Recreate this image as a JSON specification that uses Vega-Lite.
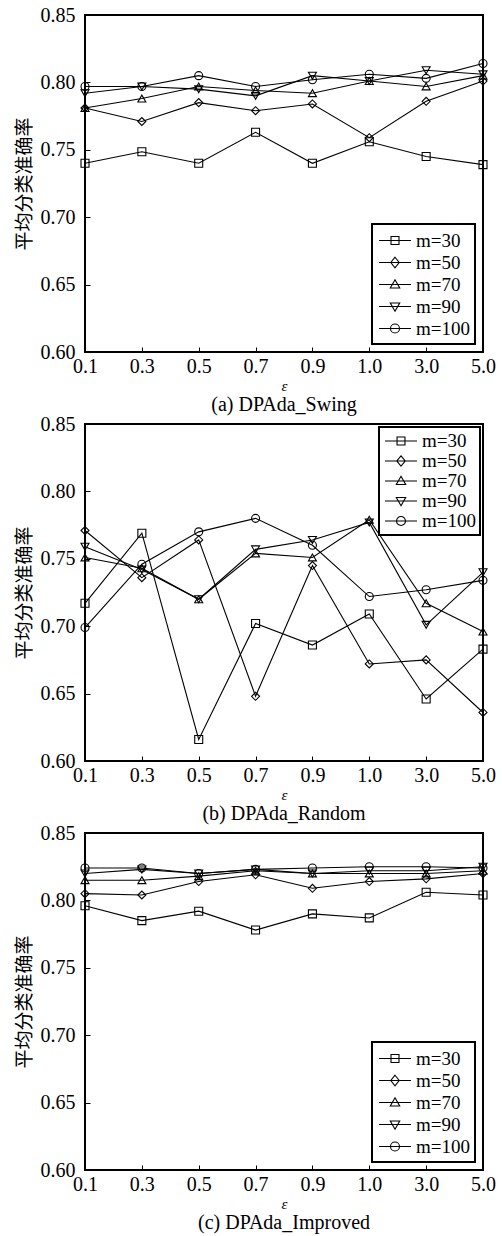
{
  "$schema": "https://vega.github.io/schema/vega-lite/v6.json",
  "padding": {"left": 14, "top": 4, "right": 4, "bottom": 4},
  "background": "white",
  "config": {
    "view": {"stroke": "black", "strokeWidth": 2},
    "axis": {
      "labelFont": "Liberation Serif", "labelFontSize": 20, "labelColor": "black",
      "tickColor": "black", "tickSize": -5, "tickWidth": 1, "domain": false, "grid": false,
      "titleColor": "black"
    },
    "title": {"font": "Liberation Serif", "fontSize": 20, "fontWeight": "normal", "color": "black", "orient": "bottom", "anchor": "middle"},
    "legend": {
      "title": null, "labelFont": "Liberation Serif", "labelFontSize": 19, "labelFontWeight": "normal", "labelColor": "black",
      "strokeColor": "black", "strokeWidth": 2, "fillColor": "white", "padding": 5,
      "symbolSize": 441, "symbolStrokeColor": "black", "symbolStrokeWidth": 1.1, "symbolFillColor": "transparent",
      "rowPadding": 0, "symbolOffset": 6.5, "labelOffset": 9.5
    }
  },
  "datasets": {
    "swing": [
      {"e":"0.1","m":"m=30","v":0.740},{"e":"0.3","m":"m=30","v":0.7485},{"e":"0.5","m":"m=30","v":0.740},{"e":"0.7","m":"m=30","v":0.763},{"e":"0.9","m":"m=30","v":0.740},{"e":"1.0","m":"m=30","v":0.756},{"e":"3.0","m":"m=30","v":0.745},{"e":"5.0","m":"m=30","v":0.739},
      {"e":"0.1","m":"m=50","v":0.781},{"e":"0.3","m":"m=50","v":0.771},{"e":"0.5","m":"m=50","v":0.785},{"e":"0.7","m":"m=50","v":0.779},{"e":"0.9","m":"m=50","v":0.784},{"e":"1.0","m":"m=50","v":0.759},{"e":"3.0","m":"m=50","v":0.786},{"e":"5.0","m":"m=50","v":0.801},
      {"e":"0.1","m":"m=70","v":0.781},{"e":"0.3","m":"m=70","v":0.788},{"e":"0.5","m":"m=70","v":0.797},{"e":"0.7","m":"m=70","v":0.794},{"e":"0.9","m":"m=70","v":0.792},{"e":"1.0","m":"m=70","v":0.801},{"e":"3.0","m":"m=70","v":0.797},{"e":"5.0","m":"m=70","v":0.805},
      {"e":"0.1","m":"m=90","v":0.792},{"e":"0.3","m":"m=90","v":0.797},{"e":"0.5","m":"m=90","v":0.795},{"e":"0.7","m":"m=90","v":0.790},{"e":"0.9","m":"m=90","v":0.805},{"e":"1.0","m":"m=90","v":0.801},{"e":"3.0","m":"m=90","v":0.809},{"e":"5.0","m":"m=90","v":0.806},
      {"e":"0.1","m":"m=100","v":0.797},{"e":"0.3","m":"m=100","v":0.797},{"e":"0.5","m":"m=100","v":0.805},{"e":"0.7","m":"m=100","v":0.797},{"e":"0.9","m":"m=100","v":0.802},{"e":"1.0","m":"m=100","v":0.806},{"e":"3.0","m":"m=100","v":0.803},{"e":"5.0","m":"m=100","v":0.814}
    ],
    "random": [
      {"e":"0.1","m":"m=30","v":0.717},{"e":"0.3","m":"m=30","v":0.769},{"e":"0.5","m":"m=30","v":0.616},{"e":"0.7","m":"m=30","v":0.702},{"e":"0.9","m":"m=30","v":0.686},{"e":"1.0","m":"m=30","v":0.709},{"e":"3.0","m":"m=30","v":0.646},{"e":"5.0","m":"m=30","v":0.683},
      {"e":"0.1","m":"m=50","v":0.771},{"e":"0.3","m":"m=50","v":0.736},{"e":"0.5","m":"m=50","v":0.764},{"e":"0.7","m":"m=50","v":0.648},{"e":"0.9","m":"m=50","v":0.745},{"e":"1.0","m":"m=50","v":0.672},{"e":"3.0","m":"m=50","v":0.675},{"e":"5.0","m":"m=50","v":0.636},
      {"e":"0.1","m":"m=70","v":0.751},{"e":"0.3","m":"m=70","v":0.743},{"e":"0.5","m":"m=70","v":0.720},{"e":"0.7","m":"m=70","v":0.754},{"e":"0.9","m":"m=70","v":0.751},{"e":"1.0","m":"m=70","v":0.779},{"e":"3.0","m":"m=70","v":0.717},{"e":"5.0","m":"m=70","v":0.696},
      {"e":"0.1","m":"m=90","v":0.759},{"e":"0.3","m":"m=90","v":0.742},{"e":"0.5","m":"m=90","v":0.720},{"e":"0.7","m":"m=90","v":0.757},{"e":"0.9","m":"m=90","v":0.764},{"e":"1.0","m":"m=90","v":0.777},{"e":"3.0","m":"m=90","v":0.701},{"e":"5.0","m":"m=90","v":0.740},
      {"e":"0.1","m":"m=100","v":0.699},{"e":"0.3","m":"m=100","v":0.746},{"e":"0.5","m":"m=100","v":0.770},{"e":"0.7","m":"m=100","v":0.780},{"e":"0.9","m":"m=100","v":0.760},{"e":"1.0","m":"m=100","v":0.722},{"e":"3.0","m":"m=100","v":0.727},{"e":"5.0","m":"m=100","v":0.734}
    ],
    "improved": [
      {"e":"0.1","m":"m=30","v":0.796},{"e":"0.3","m":"m=30","v":0.785},{"e":"0.5","m":"m=30","v":0.792},{"e":"0.7","m":"m=30","v":0.778},{"e":"0.9","m":"m=30","v":0.790},{"e":"1.0","m":"m=30","v":0.787},{"e":"3.0","m":"m=30","v":0.806},{"e":"5.0","m":"m=30","v":0.804},
      {"e":"0.1","m":"m=50","v":0.805},{"e":"0.3","m":"m=50","v":0.804},{"e":"0.5","m":"m=50","v":0.814},{"e":"0.7","m":"m=50","v":0.819},{"e":"0.9","m":"m=50","v":0.809},{"e":"1.0","m":"m=50","v":0.814},{"e":"3.0","m":"m=50","v":0.816},{"e":"5.0","m":"m=50","v":0.820},
      {"e":"0.1","m":"m=70","v":0.815},{"e":"0.3","m":"m=70","v":0.815},{"e":"0.5","m":"m=70","v":0.818},{"e":"0.7","m":"m=70","v":0.822},{"e":"0.9","m":"m=70","v":0.820},{"e":"1.0","m":"m=70","v":0.820},{"e":"3.0","m":"m=70","v":0.820},{"e":"5.0","m":"m=70","v":0.822},
      {"e":"0.1","m":"m=90","v":0.820},{"e":"0.3","m":"m=90","v":0.823},{"e":"0.5","m":"m=90","v":0.820},{"e":"0.7","m":"m=90","v":0.823},{"e":"0.9","m":"m=90","v":0.820},{"e":"1.0","m":"m=90","v":0.822},{"e":"3.0","m":"m=90","v":0.822},{"e":"5.0","m":"m=90","v":0.825},
      {"e":"0.1","m":"m=100","v":0.824},{"e":"0.3","m":"m=100","v":0.824},{"e":"0.5","m":"m=100","v":0.820},{"e":"0.7","m":"m=100","v":0.823},{"e":"0.9","m":"m=100","v":0.824},{"e":"1.0","m":"m=100","v":0.825},{"e":"3.0","m":"m=100","v":0.825},{"e":"5.0","m":"m=100","v":0.824}
    ]
  },
  "vconcat": [
    {
      "width": 398, "height": 337,
      "data": {"name": "swing"},
      "title": {"text": "(a) DPAda_Swing", "offset": 2},
      "encoding": {
        "x": {"field": "e", "type": "ordinal", "sort": ["0.1","0.3","0.5","0.7","0.9","1.0","3.0","5.0"], "scale": {"type": "point", "padding": 0},
              "axis": {"title": "ε", "titleFont": "Liberation Serif", "titleFontStyle": "italic", "titleFontWeight": "normal", "titleFontSize": 15, "titlePadding": 2, "labelAngle": 0, "labelPadding": 9}},
        "y": {"field": "v", "type": "quantitative", "scale": {"domain": [0.6, 0.85], "nice": false, "zero": false},
              "axis": {"values": [0.6,0.65,0.7,0.75,0.8,0.85], "format": ".2f", "title": "平均分类准确率", "titleFont": "Noto Sans CJK SC", "titleFontWeight": "normal", "titleFontSize": 19, "titlePadding": 6, "labelPadding": 15}}
      },
      "layer": [
        {"mark": {"type": "line", "color": "black", "strokeWidth": 1.1}, "encoding": {"detail": {"field": "m"}}},
        {"mark": {"type": "point", "color": "black", "strokeWidth": 1.1, "size": 64, "opacity": 1},
         "encoding": {"shape": {"field": "m", "type": "nominal",
           "scale": {"domain": ["m=30","m=50","m=70","m=90","m=100"], "range": ["square","diamond","triangle-up","triangle-down","circle"]},
           "legend": null}}},
        {"transform": [{"filter": "false"}],
         "mark": {"type": "point", "color": "black", "strokeWidth": 1.1, "opacity": 1},
         "encoding": {"shape": {"field": "m", "type": "nominal",
           "scale": {"domain": ["m=30","m=50","m=70","m=90","m=100"], "range": ["M-1.52,0H1.52M-0.38,-0.38H0.38V0.38H-0.38Z","M-1.52,0H1.52M0,-0.5L0.4,0L0,0.5L-0.4,0Z","M-1.52,0H1.52M0,-0.45L0.45,0.33H-0.45Z","M-1.52,0H1.52M0,0.45L0.45,-0.33H-0.45Z","M-1.52,0H1.52M-0.43,0A0.43,0.43,0,1,0,0.43,0A0.43,0.43,0,1,0,-0.43,0Z"]},
           "legend": {"orient": "bottom-right", "offset": 8, "labelFont": "Liberation Serif"}}}}
      ],
      "resolve": {"scale": {"shape": "independent"}, "legend": {"shape": "independent"}}
    },
    {
      "width": 398, "height": 337,
      "data": {"name": "random"},
      "title": {"text": "(b) DPAda_Random", "offset": 2},
      "encoding": {
        "x": {"field": "e", "type": "ordinal", "sort": ["0.1","0.3","0.5","0.7","0.9","1.0","3.0","5.0"], "scale": {"type": "point", "padding": 0},
              "axis": {"title": "ε", "titleFont": "Liberation Serif", "titleFontStyle": "italic", "titleFontWeight": "normal", "titleFontSize": 15, "titlePadding": 2, "labelAngle": 0, "labelPadding": 9}},
        "y": {"field": "v", "type": "quantitative", "scale": {"domain": [0.6, 0.85], "nice": false, "zero": false},
              "axis": {"values": [0.6,0.65,0.7,0.75,0.8,0.85], "format": ".2f", "title": "平均分类准确率", "titleFont": "Noto Sans CJK SC", "titleFontWeight": "normal", "titleFontSize": 19, "titlePadding": 6, "labelPadding": 15}}
      },
      "layer": [
        {"mark": {"type": "line", "color": "black", "strokeWidth": 1.1}, "encoding": {"detail": {"field": "m"}}},
        {"mark": {"type": "point", "color": "black", "strokeWidth": 1.1, "size": 64, "opacity": 1},
         "encoding": {"shape": {"field": "m", "type": "nominal",
           "scale": {"domain": ["m=30","m=50","m=70","m=90","m=100"], "range": ["square","diamond","triangle-up","triangle-down","circle"]},
           "legend": null}}},
        {"transform": [{"filter": "false"}],
         "mark": {"type": "point", "color": "black", "strokeWidth": 1.1, "opacity": 1},
         "encoding": {"shape": {"field": "m", "type": "nominal",
           "scale": {"domain": ["m=30","m=50","m=70","m=90","m=100"], "range": ["M-1.78,0H1.78M-0.44,-0.44H0.44V0.44H-0.44Z","M-1.78,0H1.78M0,-0.58L0.47,0L0,0.58L-0.47,0Z","M-1.78,0H1.78M0,-0.52L0.52,0.39H-0.52Z","M-1.78,0H1.78M0,0.52L0.52,-0.39H-0.52Z","M-1.78,0H1.78M-0.5,0A0.5,0.5,0,1,0,0.5,0A0.5,0.5,0,1,0,-0.5,0Z"]},
           "legend": {"orient": "top-right", "offset": 3, "labelFont": "Liberation Serif", "symbolSize": 324, "padding": 4, "symbolOffset": 8, "labelOffset": 11}}}}
      ],
      "resolve": {"scale": {"shape": "independent"}, "legend": {"shape": "independent"}}
    },
    {
      "width": 398, "height": 337,
      "data": {"name": "improved"},
      "title": {"text": "(c) DPAda_Improved", "offset": 2},
      "encoding": {
        "x": {"field": "e", "type": "ordinal", "sort": ["0.1","0.3","0.5","0.7","0.9","1.0","3.0","5.0"], "scale": {"type": "point", "padding": 0},
              "axis": {"title": "ε", "titleFont": "Liberation Serif", "titleFontStyle": "italic", "titleFontWeight": "normal", "titleFontSize": 15, "titlePadding": 2, "labelAngle": 0, "labelPadding": 9}},
        "y": {"field": "v", "type": "quantitative", "scale": {"domain": [0.6, 0.85], "nice": false, "zero": false},
              "axis": {"values": [0.6,0.65,0.7,0.75,0.8,0.85], "format": ".2f", "title": "平均分类准确率", "titleFont": "Noto Sans CJK SC", "titleFontWeight": "normal", "titleFontSize": 19, "titlePadding": 6, "labelPadding": 15}}
      },
      "layer": [
        {"mark": {"type": "line", "color": "black", "strokeWidth": 1.1}, "encoding": {"detail": {"field": "m"}}},
        {"mark": {"type": "point", "color": "black", "strokeWidth": 1.1, "size": 64, "opacity": 1},
         "encoding": {"shape": {"field": "m", "type": "nominal",
           "scale": {"domain": ["m=30","m=50","m=70","m=90","m=100"], "range": ["square","diamond","triangle-up","triangle-down","circle"]},
           "legend": null}}},
        {"transform": [{"filter": "false"}],
         "mark": {"type": "point", "color": "black", "strokeWidth": 1.1, "opacity": 1},
         "encoding": {"shape": {"field": "m", "type": "nominal",
           "scale": {"domain": ["m=30","m=50","m=70","m=90","m=100"], "range": ["M-1.52,0H1.52M-0.38,-0.38H0.38V0.38H-0.38Z","M-1.52,0H1.52M0,-0.5L0.4,0L0,0.5L-0.4,0Z","M-1.52,0H1.52M0,-0.45L0.45,0.33H-0.45Z","M-1.52,0H1.52M0,0.45L0.45,-0.33H-0.45Z","M-1.52,0H1.52M-0.43,0A0.43,0.43,0,1,0,0.43,0A0.43,0.43,0,1,0,-0.43,0Z"]},
           "legend": {"orient": "bottom-right", "offset": 8, "labelFont": "Liberation Serif"}}}}
      ],
      "resolve": {"scale": {"shape": "independent"}, "legend": {"shape": "independent"}}
    }
  ],
  "spacing": 72,
  "bounds": "flush"
}
